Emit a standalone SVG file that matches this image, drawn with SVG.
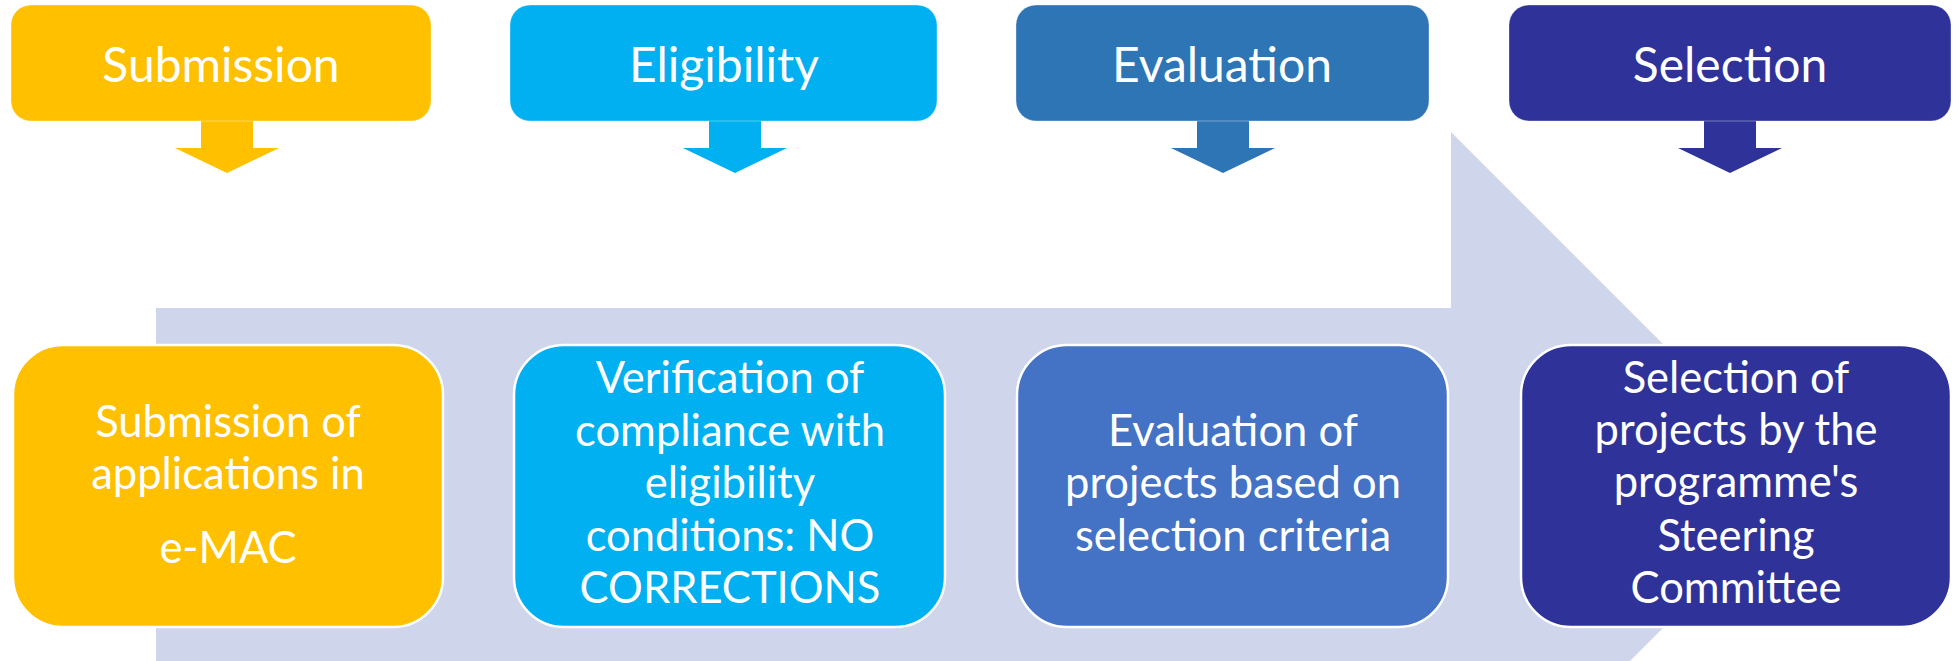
<svg xmlns="http://www.w3.org/2000/svg" xmlns:xlink="http://www.w3.org/1999/xlink" width="1957" height="661" viewBox="0 0 1957 661">
  <style>
    .hdr { stroke: #ffffff; stroke-opacity: 0.35; stroke-width: 1; }
    .card { stroke: #ffffff; stroke-width: 2.5; }
    .t { font-family: Lato, "Open Sans", "Liberation Sans", sans-serif; fill: #ffffff; text-anchor: middle; }
    .th { font-size: 48px; }
    .tb { font-size: 43.5px; }
  </style>
  <defs>
    <path id="down" d="M -26 121 H 26 V 148 H 52 L 0 173 L -52 148 H -26 Z"/>
  </defs>
  <rect width="1957" height="661" fill="#ffffff"/>
  <g id="background-arrow">
    <polygon points="156,308 1451,308 1451,132 1805,486 1451,840 1451,664 156,664" fill="#CFD5EA"/>
  </g>
  <g id="connectors">
    <use xlink:href="#down" x="227" fill="#FFC000"/>
    <use xlink:href="#down" x="735" fill="#00B0F0"/>
    <use xlink:href="#down" x="1223" fill="#2E75B6"/>
    <use xlink:href="#down" x="1730" fill="#2F3399"/>
  </g>
  <g id="head-submission">
    <rect class="hdr" x="11" y="5" width="420" height="116" rx="20" fill="#FFC000"/>
    <text class="t th" x="221" y="82">Submission</text>
  </g>
  <g id="head-eligibility">
    <rect class="hdr" x="510" y="5" width="427" height="116" rx="20" fill="#00B0F0"/>
    <text class="t th" x="724" y="82">Eligibility</text>
  </g>
  <g id="head-evaluation">
    <rect class="hdr" x="1016" y="5" width="413" height="116" rx="20" fill="#2E75B6"/>
    <text class="t th" x="1222" y="82">Evaluation</text>
  </g>
  <g id="head-selection">
    <rect class="hdr" x="1509" y="5" width="442" height="116" rx="20" fill="#2F3399"/>
    <text class="t th" x="1730" y="82">Selection</text>
  </g>
  <g id="card-submission">
    <rect class="card" x="13" y="345" width="430" height="282" rx="50" fill="#FFC000"/>
    <text class="t tb" x="228" y="437">Submission of</text>
    <text class="t tb" x="228" y="489">applications in</text>
    <text class="t tb" x="228" y="563">e-MAC</text>
  </g>
  <g id="card-eligibility">
    <rect class="card" x="514" y="345" width="431" height="282" rx="50" fill="#00B0F0"/>
    <text class="t tb" x="730" y="393">Verification of</text>
    <text class="t tb" x="730" y="446">compliance with</text>
    <text class="t tb" x="730" y="498">eligibility</text>
    <text class="t tb" x="730" y="551">conditions: NO</text>
    <text class="t tb" x="730" y="603">CORRECTIONS</text>
  </g>
  <g id="card-evaluation">
    <rect class="card" x="1017" y="345" width="431" height="282" rx="50" fill="#4472C4"/>
    <text class="t tb" x="1233" y="446">Evaluation of</text>
    <text class="t tb" x="1233" y="498">projects based on</text>
    <text class="t tb" x="1233" y="551">selection criteria</text>
  </g>
  <g id="card-selection">
    <rect class="card" x="1521" y="345" width="430" height="282" rx="50" fill="#2F3399"/>
    <text class="t tb" x="1736" y="393">Selection of</text>
    <text class="t tb" x="1736" y="445">projects by the</text>
    <text class="t tb" x="1736" y="497">programme's</text>
    <text class="t tb" x="1736" y="551">Steering</text>
    <text class="t tb" x="1736" y="603">Committee</text>
  </g>
</svg>
